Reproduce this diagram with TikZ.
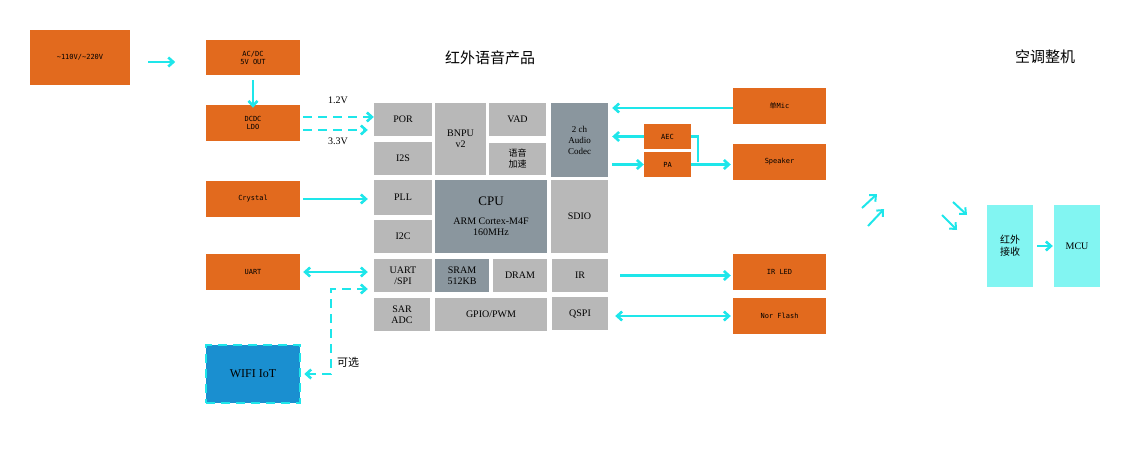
\documentclass[tikz,border=0pt]{standalone}
\usepackage{fontspec}
\setmainfont{Liberation Serif}
\newfontfamily\cjk{Noto Sans CJK SC}
\newfontfamily\mono{DejaVu Sans Mono}
\usetikzlibrary{arrows.meta}
\definecolor{org}{HTML}{E26A1E}
\definecolor{lg}{HTML}{B8B8B8}
\definecolor{dg}{HTML}{8A969E}
\definecolor{cy}{HTML}{1EE6EA}
\definecolor{lc}{HTML}{82F5F2}
\definecolor{bl}{HTML}{1A8FD0}
\begin{document}
\begin{tikzpicture}[x=1pt,y=-1pt,
  ob/.style={fill=org,draw=none,font=\mono\fontsize{7}{8}\selectfont,align=center},
  gb/.style={fill=lg,draw=none,font=\fontsize{10}{11}\selectfont,align=center},
  db/.style={fill=dg,draw=none,font=\fontsize{10}{11}\selectfont,align=center},
  cb/.style={fill=lc,draw=none,font=\fontsize{10}{12}\selectfont,align=center},
  ar/.style={draw=cy,line width=2.6pt,-{Straight Barb[length=5pt,width=9pt]}},
  dar/.style={ar,{Straight Barb[length=5pt,width=9pt]}-{Straight Barb[length=5pt,width=9pt]}},
  dsh/.style={dash pattern=on 9pt off 6pt}]
\useasboundingbox (0,0) rectangle (1134,449);
\newcommand\bx[6]{\node[#1,minimum width=#4-#2,minimum height=#5-#3,inner sep=0] (#6) at ({(#2+#4)/2},{(#3+#5)/2})}
\bx{ob}{30}{30}{130}{85}{ac}{\~{}110V/\~{}220V};
\bx{ob}{206}{40}{300}{75}{acdc}{AC/DC\\5V OUT};
\bx{ob}{206}{105}{300}{141}{ldo}{DCDC\\LDO};
\bx{ob}{206}{181}{300}{217}{xtal}{Crystal};
\bx{ob}{206}{254}{300}{290}{uart}{UART};
\node[fill=bl,draw=cy,line width=2.5pt,dsh,minimum width=94pt,minimum height=58pt,inner sep=0,font=\fontsize{12}{14}\selectfont] (wifi) at (253,374) {WIFI IoT};
\bx{gb}{374}{103}{432}{136}{por}{POR};
\bx{gb}{374}{142}{432}{175}{i2s}{I2S};
\bx{gb}{435}{103}{486}{175}{bnpu}{BNPU\\v2};
\bx{gb}{489}{103}{546}{136}{vad}{VAD};
\bx{gb}{489}{143}{546}{175}{acc}{\cjk\fontsize{9}{11}\selectfont 语音\\\cjk\fontsize{9}{11}\selectfont 加速};
\bx{db}{551}{103}{608}{177}{codec}{\fontsize{9}{11}\selectfont 2 ch\\\fontsize{9}{11}\selectfont Audio\\\fontsize{9}{11}\selectfont Codec};
\bx{gb}{374}{180}{432}{215}{pll}{PLL};
\bx{gb}{374}{220}{432}{253}{i2c}{I2C};
\bx{db}{435}{180}{547}{253}{cpu}{{\fontsize{13}{15}\selectfont CPU}\\[8pt]ARM Cortex-M4F\\160MHz};
\bx{gb}{551}{180}{608}{253}{sdio}{SDIO};
\bx{gb}{374}{259}{432}{292}{uspi}{UART\\/SPI};
\bx{db}{435}{259}{489}{292}{sram}{SRAM\\512KB};
\bx{gb}{493}{259}{547}{292}{dram}{DRAM};
\bx{gb}{552}{259}{608}{292}{ir}{IR};
\bx{gb}{374}{298}{430}{331}{sar}{SAR\\ADC};
\bx{gb}{435}{298}{547}{331}{gpio}{GPIO/PWM};
\bx{gb}{552}{297}{608}{330}{qspi}{QSPI};
\bx{ob}{733}{88}{826}{124}{mic}{{\cjk 单}Mic};
\bx{ob}{644}{124}{691}{149}{aec}{AEC};
\bx{ob}{644}{152}{691}{177}{pa}{PA};
\bx{ob}{733}{144}{826}{180}{spk}{Speaker};
\bx{ob}{733}{254}{826}{290}{irled}{IR LED};
\bx{ob}{733}{298}{826}{334}{nor}{Nor Flash};
\bx{cb}{987}{205}{1033}{287}{rx}{\cjk 红外\\\cjk 接收};
\bx{cb}{1054}{205}{1100}{287}{mcu}{MCU};
\node[font=\cjk\fontsize{15}{17}\selectfont] (t1) at (490,58) {红外语音产品};
\node[font=\cjk\fontsize{15}{17}\selectfont] (t2) at (1045,57) {空调整机};
\node[font=\fontsize{10}{12}\selectfont] (v1) at (338,100) {1.2V};
\node[font=\fontsize{10}{12}\selectfont] (v2) at (338,141) {3.3V};
\node[font=\cjk\fontsize{11}{13}\selectfont] (opt) at (348,362) {可选};
% connectors
\draw[ar] (ac.east|-0,62) ++(18,0) coordinate (a0) -- ++(27,0);
\draw[ar] (acdc.south) ++(0,5) -- ([yshift=-3pt]ldo.north);
\draw[ar,dsh] (ldo.east|-0,117) ++(3,0) -- (por.west|-0,117) [xshift=-6pt];
\draw[ar,dsh] ([xshift=3pt]ldo.east|-0,130) -- ([xshift=-6pt]por.west|-0,130);
\draw[ar] ([xshift=3pt]xtal.east) -- ([xshift=-6pt]pll.west|-xtal.east);
\draw[dar] ([xshift=3pt]uart.east|-0,272) -- ([xshift=-6pt]uspi.west|-0,272);
\coordinate (c1) at (331,289);
\coordinate (c2) at (331,374);
\draw[ar,dsh,{Straight Barb[length=5pt,width=9pt]}-{Straight Barb[length=5pt,width=9pt]}] ([xshift=3pt]wifi.east) -- (c2) -- (c1) -- ([xshift=-6pt]uspi.west|-c1);
\draw[ar] (mic.west|-0,108) -- ([xshift=4pt]codec.east|-0,108);
\draw[ar] (aec.west) -- ([xshift=4pt]codec.east|-aec.west);
\draw[ar] ([xshift=4pt]codec.east|-pa.west) -- (pa.west);
\draw[ar] (pa.east) -- ([xshift=-2pt]spk.west|-pa.east);
\draw[draw=cy,line width=2.6pt] (aec.east) -| (698,162);
\draw[ar] ([xshift=12pt]ir.east) -- ([xshift=-2pt]irled.west|-ir.east);
\draw[dar] ([xshift=7pt]qspi.east|-0,316) -- ([xshift=-2pt]nor.west|-0,316);
\draw[ar] ([xshift=4pt]rx.east) -- ([xshift=-1pt]mcu.west|-rx.east);
\coordinate (w1) at (862,208); \coordinate (w2) at (877,194);
\coordinate (w3) at (868,226); \coordinate (w4) at (884,209);
\coordinate (w5) at (953,202); \coordinate (w6) at (967,215);
\coordinate (w7) at (942,215); \coordinate (w8) at (957,230);
\draw[ar,line width=2pt] (w1) -- (w2);
\draw[ar,line width=2pt] (w3) -- (w4);
\draw[ar,line width=2pt] (w5) -- (w6);
\draw[ar,line width=2pt] (w7) -- (w8);
\end{tikzpicture}
\end{document}
